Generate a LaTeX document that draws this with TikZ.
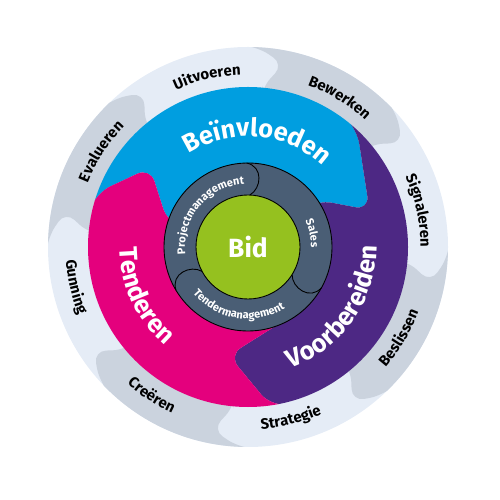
\documentclass[tikz,border=0pt]{standalone}
\usepackage{fontspec}
\setmainfont{Fira Sans}
\usetikzlibrary{decorations.text}
\definecolor{RingLight}{RGB}{229,236,246}
\definecolor{RingGray}{RGB}{203,211,222}
\definecolor{BidBlue}{RGB}{0,158,224}
\definecolor{BidPink}{RGB}{228,0,125}
\definecolor{BidPurple}{RGB}{77,40,132}
\definecolor{BidSlate}{RGB}{74,94,117}
\definecolor{BidGreen}{RGB}{149,193,31}
\newcommand{\outerfont}{\bfseries\fontsize{8.5}{8.5}\selectfont}
\newcommand{\bigfont}{\color{white}\bfseries\fontsize{14.5}{14.5}\selectfont}
\newcommand{\slatefont}{\color{white}\bfseries\fontsize{6.3}{6.3}\selectfont}
\newcommand{\cwlabel}[4]{%
  \path[decorate,decoration={text along path,text align=center,text={|#1|#2}}]
    ({#3+70}:#4) arc[start angle={#3+70},end angle={#3-70},radius=#4];}
\newcommand{\ccwlabel}[4]{%
  \path[decorate,decoration={text along path,text align=center,text={|#1|#2}}]
    ({#3-70}:#4) arc[start angle={#3-70},end angle={#3+70},radius=#4];}

\begin{document}
\begin{tikzpicture}
  \useasboundingbox (-4.96,-5.06) rectangle (5.04,4.94);
  % outer ring
  \fill[RingLight] (0,0) circle (4);
  \begin{scope}
    \clip (0,0) circle (4);
    \foreach \t in {79,-11,-101,169}
      \fill[RingGray,rounded corners=7pt]
        ({\t+16}:4.07) -- ({\t+8}:4) -- (\t:3.72) -- ({\t+6}:3.2) -- ({\t+6}:3)
        -- ({\t-39}:3) -- ({\t-39}:3.2) -- ({\t-45}:3.72) -- ({\t-37}:4)
        -- ({\t-29}:4.07) -- ({\t-20}:4.4) -- ({\t+10}:4.4) -- cycle;
  \end{scope}
  % coloured ring
  \begin{scope}
    \clip (0,0) circle (3.2);
    \foreach \col/\Op/\Tp/\Rp/\Ip/\Oh/\Th/\Rh/\Ih in {%
        BidBlue/160/141/2.52/163/47/17/2.54/34,
        BidPurple/47/17/2.54/34/-82/-100/2.2/-44,
        BidPink/278/260/2.2/316/160/141/2.52/163}
      \fill[\col,rounded corners=8pt]
        ({\Op+8}:3.26) -- (\Op:3.2) -- (\Tp:\Rp) -- (\Ip:1.68) -- (\Ip:1.2)
        -- (\Ih:1.2) -- (\Ih:1.68) -- (\Th:\Rh) -- (\Oh:3.2) -- ({\Oh+8}:3.26)
        -- ({\Oh+20}:4.5) -- ({(\Oh+\Op)/2}:4.5) -- ({\Op+20}:4.5) -- cycle;
  \end{scope}
  % inner ring
  \fill[BidSlate,draw=black,line width=0.5pt] (0,0) circle (1.68);
  \foreach \a in {88,-32,-152}
    \draw[line width=0.5pt] ({\a+3}:1.68) .. controls ({\a-9}:1.64) and ({\a-11}:1.2) .. (\a:1.04);
  \node[circle,fill=BidGreen,draw=black,line width=0.5pt,minimum size=2.08cm,inner sep=0pt,
    text=white,font=\bfseries\fontsize{15}{15}\selectfont] (bid) at (0,0) {Bid};
  % labels
  \cwlabel{\bigfont}{Beïnvloeden}{85}{2.21}
  \ccwlabel{\bigfont}{Voorbereiden}{-35}{2.57}
  \ccwlabel{\bigfont}{Tenderen}{-155}{2.57}
  \cwlabel{\slatefont}{Projectmanagement}{140}{1.26}
  \cwlabel{\slatefont}{Sales}{12}{1.26}
  \ccwlabel{\slatefont}{Tendermanagement}{-99.5}{1.44}
  \cwlabel{\outerfont}{Uitvoeren}{103.5}{3.45}
  \cwlabel{\outerfont}{Bewerken}{58.5}{3.45}
  \cwlabel{\outerfont}{Signaleren}{12}{3.45}
  \ccwlabel{\outerfont}{Beslissen}{-31}{3.65}
  \ccwlabel{\outerfont}{Strategie}{-76}{3.65}
  \ccwlabel{\outerfont}{Creëren}{-123}{3.65}
  \ccwlabel{\outerfont}{Gunning}{-167}{3.65}
  \cwlabel{\outerfont}{Evalueren}{147}{3.45}
\end{tikzpicture}
\end{document}
